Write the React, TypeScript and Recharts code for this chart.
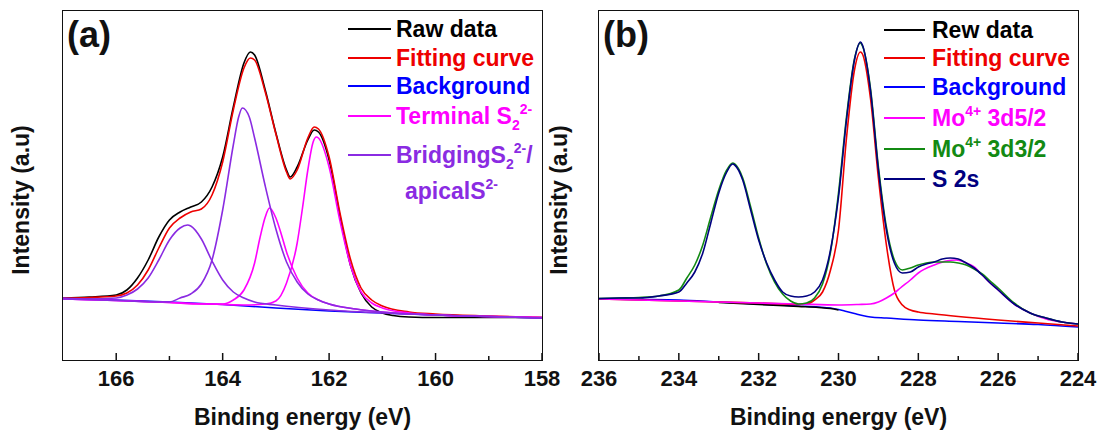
import React from 'react';
import { LineChart, Line, XAxis, YAxis } from 'recharts';

type Pt = [number, number];

// (a) S 2p region: [binding energy eV, intensity a.u.]
const bgA: Pt[] = [[167, 62], [166, 60], [165, 58], [164, 55.5], [163, 52], [162, 49], [161, 47], [160, 45], [159, 43.5], [158, 42]];
const rawA: Pt[] = [
  [167, 62], [166.5, 63], [166, 65], [165.8, 70], [165.6, 82], [165.4, 100], [165.2, 123], [165, 140], [164.8, 148],
  [164.6, 153], [164.4, 158], [164.2, 173], [164, 203], [163.8, 253], [163.6, 297], [163.48, 308], [163.4, 305],
  [163.2, 270], [163, 227], [162.8, 190], [162.73, 183], [162.6, 193], [162.4, 220], [162.28, 230], [162.2, 228],
  [162, 200], [161.8, 145], [161.6, 95], [161.4, 67], [161.2, 53], [161, 47], [160.8, 44.5], [160.5, 43],
  [160, 42.5], [159, 42.5], [158, 42.5],
];
const fitA: Pt[] = [
  [167, 62], [166.5, 62.5], [166, 64], [165.8, 67], [165.6, 75], [165.4, 90], [165.2, 112], [165, 132], [164.8, 142],
  [164.6, 148], [164.4, 151], [164.2, 165], [164, 198], [163.8, 250], [163.6, 292], [163.48, 302], [163.4, 300],
  [163.2, 268], [163, 226], [162.8, 188], [162.73, 181], [162.6, 190], [162.4, 222], [162.28, 233], [162.2, 231],
  [162, 203], [161.8, 148], [161.6, 101], [161.4, 72], [161.2, 60], [161, 54], [160.5, 48], [160, 46], [159, 44], [158, 42.5],
];
const terminal1A: Pt[] = [
  [167, 61], [166, 59.5], [165, 57.5], [164.4, 56], [164, 56], [163.8, 60], [163.6, 70], [163.4, 97], [163.3, 122],
  [163.2, 143], [163.12, 152], [163, 142], [162.9, 126], [162.8, 108], [162.6, 82], [162.4, 67], [162.2, 60],
  [162, 56], [161.5, 51], [161, 48], [160, 45], [159, 43.5], [158, 42.5],
];
const terminal2A: Pt[] = [
  [167, 61], [166, 59.5], [165, 57.5], [164, 55.5], [163.6, 55], [163.2, 56], [163, 59], [162.8, 77], [162.6, 117],
  [162.5, 152], [162.4, 190], [162.3, 218], [162.24, 223], [162.2, 222], [162, 193], [161.8, 140], [161.6, 95],
  [161.4, 68], [161.2, 57], [161, 52], [160.5, 47], [160, 45], [159, 43.5], [158, 42.5],
];
const bridging1A: Pt[] = [
  [167, 62], [166.5, 61], [166, 62], [165.8, 65], [165.6, 71], [165.4, 82], [165.2, 100], [165, 120], [164.8, 132],
  [164.66, 135], [164.6, 134], [164.4, 121], [164.2, 99], [164, 80], [163.8, 68], [163.6, 62], [163.4, 58],
  [163, 55], [162, 50], [161, 47], [160, 45], [159, 43.5], [158, 42],
];
const bridging2A: Pt[] = [
  [167, 61], [166, 59.5], [165, 58], [164.8, 62], [164.6, 66], [164.4, 76], [164.2, 100], [164, 150], [163.8, 215],
  [163.7, 243], [163.63, 252], [163.5, 243], [163.4, 222], [163.2, 174], [163, 131], [162.8, 98], [162.6, 78],
  [162.4, 66], [162.2, 60], [162, 56], [161.5, 51], [161, 48], [160, 45], [159, 43.5], [158, 42],
];

// (b) Mo 3d / S 2s region
const bgB: Pt[] = [
  [236, 61], [235, 60.5], [234, 60], [233, 58], [232, 56], [231.5, 55], [231, 54], [230.5, 53], [230.2, 52], [230, 50.5],
  [229.8, 48.5], [229.6, 46.5], [229.4, 44.5], [229.2, 43], [228.8, 42], [228, 40], [227, 38.5], [226, 37], [225, 35.5], [224, 33],
];
const rawB: Pt[] = [[233, 57.5], [232, 55.5], [231, 53.5], [230.5, 52.5], [230.2, 51.5], [230, 50]];
const fitB: Pt[] = [
  [236, 61], [235, 60], [234, 59], [233, 58], [232, 57], [231, 55.5], [230.8, 56], [230.6, 60], [230.4, 68], [230.2, 90],
  [230, 130], [229.8, 222], [229.6, 290], [229.45, 308], [229.4, 306], [229.2, 262], [229, 182], [228.8, 115],
  [228.6, 70], [228.4, 55], [228.2, 50], [228, 48], [227.6, 46], [227, 43.5], [226, 40], [225, 37], [224, 34],
];
const mo52B: Pt[] = [
  [236, 61], [235, 60], [234, 59], [233, 58], [232, 57], [231, 56], [230, 55], [229.5, 55.5], [229.2, 56], [229, 58],
  [228.8, 62], [228.6, 67], [228.45, 72], [228.2, 80], [228, 87], [227.6, 95], [227.3, 99], [227.05, 100], [226.8, 97],
  [226.6, 93], [226.4, 85], [226.2, 77], [226, 70], [225.6, 56], [225.2, 47], [224.8, 41], [224.4, 38], [224, 36],
];
const mo32B: Pt[] = [
  [236, 61.5], [235.5, 62], [235, 62.5], [234.5, 64], [234, 70], [233.8, 82], [233.6, 95], [233.4, 115], [233.2, 143],
  [233, 170], [232.8, 190], [232.65, 197], [232.6, 196], [232.4, 182], [232.2, 153], [232, 122], [231.8, 96],
  [231.6, 78], [231.4, 66], [231.2, 59], [231, 56], [230.8, 57], [230.6, 62], [230.4, 76], [230.2, 108], [230, 167],
  [229.8, 243], [229.6, 301], [229.45, 317], [229.4, 314], [229.2, 272], [229, 193], [228.8, 133], [228.6, 100],
  [228.4, 90], [228.2, 92], [228, 95], [227.8, 97], [227.6, 98], [227.2, 98], [227, 97], [226.8, 95], [226.6, 91],
  [226.4, 86], [226.2, 79], [226, 72], [225.6, 57], [225.2, 47], [224.8, 42], [224.4, 38], [224, 36],
];
const s2sB: Pt[] = [
  [236, 61.5], [235.5, 62], [235, 62], [234.5, 64], [234, 68], [233.8, 77], [233.6, 88], [233.4, 107], [233.2, 137],
  [233, 167], [232.8, 188], [232.65, 196], [232.6, 195], [232.4, 180], [232.2, 150], [232, 120], [231.8, 97],
  [231.6, 80], [231.4, 68], [231.2, 64], [231, 63], [230.8, 64], [230.6, 68], [230.4, 80], [230.2, 110], [230, 163],
  [229.8, 240], [229.6, 300], [229.45, 318], [229.4, 315], [229.2, 270], [229, 190], [228.8, 130], [228.6, 97],
  [228.4, 87], [228.2, 88], [228, 93], [227.8, 96], [227.6, 98], [227.4, 101], [227.2, 102], [227, 101], [226.8, 97],
  [226.6, 92], [226.4, 85], [226.2, 77], [226, 70], [225.6, 56], [225.2, 47], [224.8, 42], [224.4, 38], [224, 36],
];

const ticksA = [158, 159, 160, 161, 162, 163, 164, 165, 166];
const ticksB = [224, 225, 226, 227, 228, 229, 230, 231, 232, 233, 234, 235, 236];

const FONT = '"Liberation Sans", Arial, Helvetica, sans-serif';
const rows = (pts: Pt[]) => pts.map(([e, v]) => ({ e, v }));

function EnergyTick(props: any) {
  const { x, y, payload } = props;
  const major = payload.value % 2 === 0;
  return (
    <g>
      <line x1={x} x2={x} y1={y} y2={y - (major ? 7 : 4)} stroke="#111" strokeWidth={1.5} />
      {major && (
        <text x={x} y={y + 26} textAnchor="middle" fontFamily={FONT} fontWeight="bold" fontSize={22} fill="#111">
          {payload.value}
        </text>
      )}
    </g>
  );
}

type Series = { pts: Pt[]; color: string };

function Panel({ left, width, plotLeft, plotRight, domain, ticks, series }: {
  left: number; width: number; plotLeft: number; plotRight: number;
  domain: [number, number]; ticks: number[]; series: Series[];
}) {
  return (
    <div style={{ position: 'absolute', left, top: 0 }}>
      <LineChart width={width} height={430} margin={{ top: 11, left: plotLeft, right: width - plotRight, bottom: 0 }}>
        <XAxis dataKey="e" type="number" domain={domain} reversed allowDataOverflow ticks={ticks} interval={0}
          axisLine={false} tickLine={false} tickSize={0} tickMargin={0} height={70} tick={<EnergyTick />} />
        <YAxis type="number" domain={[0, 349]} allowDataOverflow hide />
        {series.map((s, i) => (
          <Line key={i} data={rows(s.pts)} dataKey="v" type="monotone" stroke={s.color} strokeWidth={1.6}
            dot={false} activeDot={false} isAnimationActive={false} />
        ))}
      </LineChart>
    </div>
  );
}

const sup = (t: string) => <span style={{ fontSize: 14, position: 'relative', top: -10 }}>{t}</span>;
const sub = (t: string) => <span style={{ fontSize: 14, position: 'relative', top: 6 }}>{t}</span>;

function LegendRow({ x0, x1, tx, cy, color, children, noLine }: any) {
  return (
    <>
      {!noLine && <div style={{ position: 'absolute', left: x0, top: cy - 1, width: x1 - x0, height: 2, background: color }} />}
      <div style={{ position: 'absolute', left: tx, top: cy - 13, lineHeight: '26px', fontSize: 23, fontWeight: 'bold', color, whiteSpace: 'nowrap' }}>
        {children}
      </div>
    </>
  );
}

const textStyle: React.CSSProperties = { position: 'absolute', fontFamily: FONT, fontWeight: 'bold', color: '#111', whiteSpace: 'nowrap' };

export default function App() {
  const purple = '#8a2be2';
  return (
    <div style={{ position: 'absolute', left: 0, top: 0, width: 1099, height: 430, background: '#fff', fontFamily: FONT, overflow: 'hidden' }}>
      <Panel left={0} width={575} plotLeft={63} plotRight={542} domain={[158, 167]} ticks={ticksA}
        series={[
          { pts: bgA, color: '#0000ff' },
          { pts: rawA, color: '#000000' },
          { pts: fitA, color: '#ee0000' },
          { pts: terminal1A, color: '#ff00ff' },
          { pts: terminal2A, color: '#ff00ff' },
          { pts: bridging1A, color: purple },
          { pts: bridging2A, color: purple },
        ]} />
      <Panel left={540} width={559} plotLeft={59} plotRight={538} domain={[224, 236]} ticks={ticksB}
        series={[
          { pts: bgB, color: '#0000ff' },
          { pts: rawB, color: '#000000' },
          { pts: fitB, color: '#ee0000' },
          { pts: mo52B, color: '#ff00ff' },
          { pts: mo32B, color: '#138a13' },
          { pts: s2sB, color: '#000080' },
        ]} />

      {/* frames */}
      <div style={{ position: 'absolute', left: 62, top: 10, width: 481, height: 351, boxSizing: 'border-box', border: '1.5px solid #111', pointerEvents: 'none' }} />
      <div style={{ position: 'absolute', left: 598, top: 10, width: 481, height: 351, boxSizing: 'border-box', border: '1.5px solid #111', pointerEvents: 'none' }} />

      {/* panel labels */}
      <div style={{ ...textStyle, left: 67, top: 15, fontSize: 36, lineHeight: '40px' }}>(a)</div>
      <div style={{ ...textStyle, left: 603, top: 15, fontSize: 36, lineHeight: '40px' }}>(b)</div>

      {/* axis titles */}
      <div style={{ ...textStyle, left: 63, width: 479, top: 404, fontSize: 23, lineHeight: '26px', textAlign: 'center' }}>Binding energy (eV)</div>
      <div style={{ ...textStyle, left: 599, width: 479, top: 404, fontSize: 23, lineHeight: '26px', textAlign: 'center' }}>Binding energy (eV)</div>
      <div style={{ ...textStyle, left: 21 - 150, width: 300, top: 200 - 13, fontSize: 23, lineHeight: '26px', textAlign: 'center', transform: 'rotate(-90deg)' }}>Intensity (a.u)</div>
      <div style={{ ...textStyle, left: 559 - 150, width: 300, top: 200 - 13, fontSize: 23, lineHeight: '26px', textAlign: 'center', transform: 'rotate(-90deg)' }}>Intensity (a.u)</div>

      {/* legend (a) */}
      <LegendRow x0={348} x1={391} tx={396} cy={29} color="#000000">Raw data</LegendRow>
      <LegendRow x0={348} x1={391} tx={396} cy={57.5} color="#ee0000">Fitting curve</LegendRow>
      <LegendRow x0={348} x1={391} tx={396} cy={86} color="#0000ff">Background</LegendRow>
      <LegendRow x0={348} x1={391} tx={396} cy={116} color="#ff00ff">Terminal S{sub('2')}{sup('2-')}</LegendRow>
      <LegendRow x0={348} x1={391} tx={396} cy={154.5} color={purple}>BridgingS{sub('2')}{sup('2-')}/</LegendRow>
      <LegendRow noLine tx={405} cy={191} color={purple}>apicalS{sup('2-')}</LegendRow>

      {/* legend (b) */}
      <LegendRow x0={884} x1={925} tx={932} cy={29.5} color="#000000">Rew data</LegendRow>
      <LegendRow x0={884} x1={925} tx={932} cy={57.5} color="#ee0000">Fitting curve</LegendRow>
      <LegendRow x0={884} x1={925} tx={932} cy={86.5} color="#0000ff">Background</LegendRow>
      <LegendRow x0={884} x1={925} tx={932} cy={118} color="#ff00ff">Mo{sup('4+')} 3d5/2</LegendRow>
      <LegendRow x0={884} x1={925} tx={932} cy={149} color="#138a13">Mo{sup('4+')} 3d3/2</LegendRow>
      <LegendRow x0={884} x1={925} tx={932} cy={179} color="#000080">S 2s</LegendRow>
    </div>
  );
}
